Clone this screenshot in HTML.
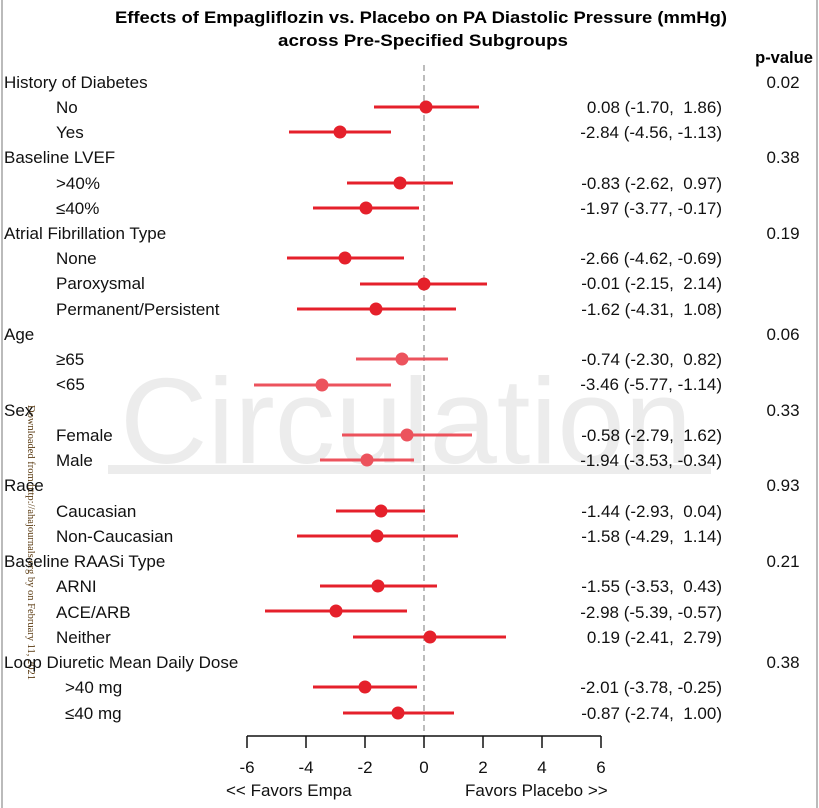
<!DOCTYPE html>
<html><head><meta charset="utf-8"><style>
html,body{margin:0;padding:0;background:#fff;}
svg{display:block;font-family:"Liberation Sans",sans-serif;}
</style></head><body>
<svg width="819" height="808" viewBox="0 0 819 808" xmlns="http://www.w3.org/2000/svg">
<rect width="819" height="808" fill="#fff"/>
<line x1="2" y1="0" x2="2" y2="808" stroke="#bbb" stroke-width="2"/>
<line x1="817" y1="0" x2="817" y2="808" stroke="#bbb" stroke-width="2"/>
<text x="120" y="463" font-size="122" fill="#ececec" textLength="572" lengthAdjust="spacingAndGlyphs">Circulation</text>
<rect x="108" y="465" width="603" height="9" fill="#ececec"/>
<text x="421" y="23" font-size="16.5" font-weight="bold" text-anchor="middle" textLength="612" lengthAdjust="spacingAndGlyphs">Effects of Empagliflozin vs. Placebo on PA Diastolic Pressure (mmHg)</text>
<text x="423" y="46" font-size="16.5" font-weight="bold" text-anchor="middle" textLength="290" lengthAdjust="spacingAndGlyphs">across Pre-Specified Subgroups</text>
<text x="784" y="63" font-size="16.5" font-weight="bold" text-anchor="middle">p-value</text>
<line x1="424" y1="65" x2="424" y2="736" stroke="#999" stroke-width="1.3" stroke-dasharray="6,4"/>
<g stroke="#111" stroke-width="1.5">
<line x1="247" y1="736" x2="601" y2="736"/>
<line x1="247" y1="736" x2="247" y2="748"/><line x1="306" y1="736" x2="306" y2="748"/><line x1="365" y1="736" x2="365" y2="748"/><line x1="424" y1="736" x2="424" y2="748"/><line x1="483" y1="736" x2="483" y2="748"/><line x1="542" y1="736" x2="542" y2="748"/><line x1="601" y1="736" x2="601" y2="748"/>
</g>
<g font-size="17" fill="#111" text-anchor="middle">
<text x="247" y="773">-6</text><text x="306" y="773">-4</text><text x="365" y="773">-2</text><text x="424" y="773">0</text><text x="483" y="773">2</text><text x="542" y="773">4</text><text x="601" y="773">6</text>
</g>
<text x="226" y="796" font-size="17" fill="#111">&lt;&lt; Favors Empa</text>
<text x="465" y="796" font-size="17" fill="#111">Favors Placebo &gt;&gt;</text>
<text transform="translate(28,405) rotate(90)" font-family="Liberation Serif,serif" font-size="10.5" fill="#5a3a10">Downloaded from http://ahajournals.org by on February 11, 2021</text>
<g font-size="17" fill="#111">
<text x="4" y="88">History of Diabetes</text>
<text x="56" y="113">No</text><text x="56" y="138">Yes</text>
<text x="4" y="163">Baseline LVEF</text>
<text x="56" y="189">&gt;40%</text><text x="56" y="214">≤40%</text>
<text x="4" y="239">Atrial Fibrillation Type</text>
<text x="56" y="264">None</text><text x="56" y="289">Paroxysmal</text><text x="56" y="315">Permanent/Persistent</text>
<text x="4" y="340">Age</text>
<text x="56" y="365">≥65</text><text x="56" y="390">&lt;65</text>
<text x="4" y="416">Sex</text>
<text x="56" y="441">Female</text><text x="56" y="466">Male</text>
<text x="4" y="491">Race</text>
<text x="56" y="517">Caucasian</text><text x="56" y="542">Non-Caucasian</text>
<text x="4" y="567">Baseline RAASi Type</text>
<text x="56" y="592">ARNI</text><text x="56" y="618">ACE/ARB</text><text x="56" y="643">Neither</text>
<text x="4" y="668">Loop Diuretic Mean Daily Dose</text>
<text x="65" y="693">&gt;40 mg</text><text x="65" y="719">≤40 mg</text>
</g>
<g font-size="17" fill="#111" text-anchor="middle">
<text x="783" y="88">0.02</text><text x="783" y="163">0.38</text><text x="783" y="239">0.19</text><text x="783" y="340">0.06</text><text x="783" y="416">0.33</text><text x="783" y="491">0.93</text><text x="783" y="567">0.21</text><text x="783" y="668">0.38</text>
</g>
<g font-size="17" fill="#111" text-anchor="end">
<text x="722" y="113">0.08 (-1.70,&#160; 1.86)</text>
<text x="722" y="138">-2.84 (-4.56, -1.13)</text>
<text x="722" y="189">-0.83 (-2.62,&#160; 0.97)</text>
<text x="722" y="214">-1.97 (-3.77, -0.17)</text>
<text x="722" y="264">-2.66 (-4.62, -0.69)</text>
<text x="722" y="289">-0.01 (-2.15,&#160; 2.14)</text>
<text x="722" y="315">-1.62 (-4.31,&#160; 1.08)</text>
<text x="722" y="365">-0.74 (-2.30,&#160; 0.82)</text>
<text x="722" y="390">-3.46 (-5.77, -1.14)</text>
<text x="722" y="441">-0.58 (-2.79,&#160; 1.62)</text>
<text x="722" y="466">-1.94 (-3.53, -0.34)</text>
<text x="722" y="517">-1.44 (-2.93,&#160; 0.04)</text>
<text x="722" y="542">-1.58 (-4.29,&#160; 1.14)</text>
<text x="722" y="592">-1.55 (-3.53,&#160; 0.43)</text>
<text x="722" y="618">-2.98 (-5.39, -0.57)</text>
<text x="722" y="643">0.19 (-2.41,&#160; 2.79)</text>
<text x="722" y="693">-2.01 (-3.78, -0.25)</text>
<text x="722" y="719">-0.87 (-2.74,&#160; 1.00)</text>
</g>
<g stroke-width="3">
<g stroke="#e5202b" fill="#e5202b">
<line x1="374" y1="107" x2="479" y2="107"/><circle cx="426" cy="107" r="5"/>
<line x1="289" y1="132" x2="391" y2="132"/><circle cx="340" cy="132" r="5"/>
<line x1="347" y1="183" x2="453" y2="183"/><circle cx="400" cy="183" r="5"/>
<line x1="313" y1="208" x2="419" y2="208"/><circle cx="366" cy="208" r="5"/>
<line x1="287" y1="258" x2="404" y2="258"/><circle cx="345" cy="258" r="5"/>
<line x1="360" y1="284" x2="487" y2="284"/><circle cx="424" cy="284" r="5"/>
<line x1="297" y1="309" x2="456" y2="309"/><circle cx="376" cy="309" r="5"/>
<line x1="336" y1="511" x2="425" y2="511"/><circle cx="381" cy="511" r="5"/>
<line x1="297" y1="536" x2="458" y2="536"/><circle cx="377" cy="536" r="5"/>
<line x1="320" y1="586" x2="437" y2="586"/><circle cx="378" cy="586" r="5"/>
<line x1="265" y1="611" x2="407" y2="611"/><circle cx="336" cy="611" r="5"/>
<line x1="353" y1="637" x2="506" y2="637"/><circle cx="430" cy="637" r="5"/>
<line x1="313" y1="687" x2="417" y2="687"/><circle cx="365" cy="687" r="5"/>
<line x1="343" y1="713" x2="454" y2="713"/><circle cx="398" cy="713" r="5"/>
</g>
<g stroke="#ec4a55" fill="#ec4a55" opacity="0.95">
<line x1="356" y1="359" x2="448" y2="359"/><circle cx="402" cy="359" r="5"/>
<line x1="254" y1="385" x2="391" y2="385"/><circle cx="322" cy="385" r="5"/>
<line x1="342" y1="435" x2="472" y2="435"/><circle cx="407" cy="435" r="5"/>
<line x1="320" y1="460" x2="414" y2="460"/><circle cx="367" cy="460" r="5"/>
</g>
</g>
</svg>
</body></html>
